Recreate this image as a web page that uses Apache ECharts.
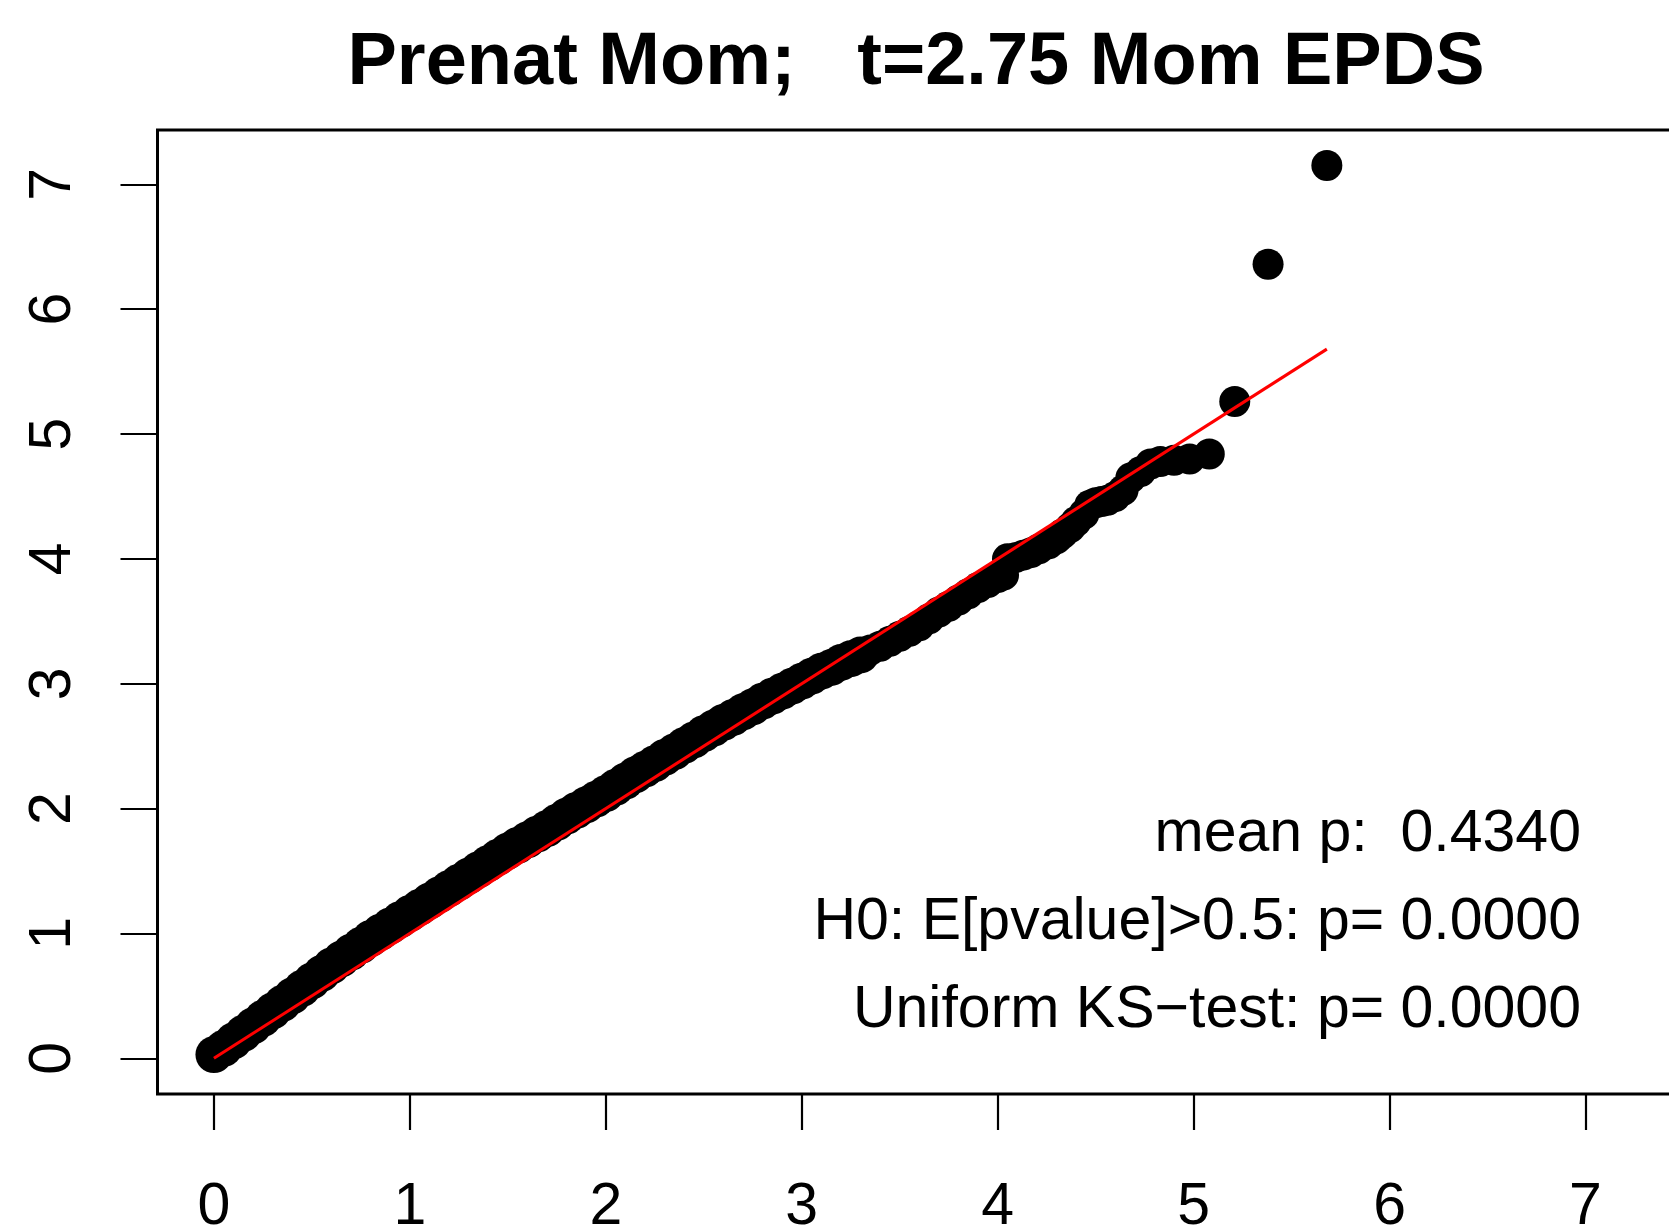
<!DOCTYPE html>
<html>
<head>
<meta charset="utf-8">
<script src="https://cdn.jsdelivr.net/npm/echarts@6/dist/echarts.min.js"></script>
<style>
  html, body { margin: 0; padding: 0; background: #ffffff; }
  #chart { width: 1669px; height: 1227px; }
</style>
</head>
<body>
<div id="chart"></div>
<script>
// ---- chart text ----
const titleText = "Prenat Mom;   t=2.75 Mom EPDS";
const statLines = ["mean p:  0.4340", "H0: E[pvalue]>0.5: p= 0.0000", "Uniform KS\u2212test: p= 0.0000"];

// ---- tick labels ----
const xTicks = [0, 1, 2, 3, 4, 5, 6, 7];
const yTicks = [0, 1, 2, 3, 4, 5, 6, 7];

// ---- dense body of the QQ points (expected -log10 p, observed -log10 p) ----
const bodyX = [0.00,0.05,0.10,0.15,0.20,0.25,0.30,0.35,0.40,0.45,0.50,0.55,0.60,0.65,0.70,0.75,0.80,0.85,0.90,0.95,
  1.00,1.05,1.10,1.15,1.20,1.25,1.30,1.35,1.40,1.45,1.50,1.55,1.60,1.65,1.70,1.75,1.80,1.85,1.90,1.95,
  2.00,2.05,2.10,2.15,2.20,2.25,2.30,2.35,2.40,2.45,2.50,2.55,2.60,2.65,2.70,2.75,2.80,2.85,2.90,2.95,
  3.00,3.05,3.10,3.15,3.20,3.25,3.30];
const bodyY = [0.03,0.08,0.14,0.20,0.26,0.32,0.38,0.44,0.50,0.56,0.62,0.68,0.74,0.795,0.85,0.905,0.96,1.01,1.06,1.11,
  1.16,1.21,1.26,1.31,1.36,1.41,1.46,1.51,1.56,1.61,1.66,1.705,1.75,1.795,1.84,1.89,1.94,1.985,2.03,2.075,
  2.12,2.17,2.22,2.27,2.315,2.36,2.41,2.455,2.505,2.55,2.60,2.645,2.69,2.73,2.775,2.815,2.86,2.90,2.94,2.98,
  3.02,3.06,3.10,3.13,3.17,3.20,3.23];

// ---- sparser upper part and tail ----
const tailX = [3.35,3.40,3.45,3.50,3.55,3.60,3.65,3.70,3.75,3.80,3.85,3.90,3.95,4.00,4.03,4.05,4.09,4.13,4.17,4.21,
  4.26,4.30,4.33,4.37,4.40,4.44,4.47,4.50,4.53,4.56,4.60,4.64,4.68,4.73,4.78,4.83,4.90,4.98,5.08,5.21,5.38,5.68];
const tailY = [3.27,3.30,3.34,3.38,3.42,3.465,3.52,3.575,3.62,3.67,3.72,3.77,3.81,3.85,3.87,4.00,4.01,4.03,4.05,4.08,
  4.12,4.16,4.20,4.25,4.30,4.36,4.43,4.45,4.46,4.47,4.50,4.55,4.65,4.70,4.76,4.78,4.79,4.80,4.84,5.26,6.36,7.15];

// ---- reference line y = x ----
const refX = [0, 5.68];
const refY = [0, 5.68];

const FONT = '"Liberation Sans", Arial, Helvetica, sans-serif';

const chart = echarts.init(document.getElementById('chart'), null, { renderer: 'canvas' });

const zip = (a, b) => a.map((v, i) => [v, b[i]]);

const option = {
  animation: false,
  backgroundColor: '#ffffff',
  title: {
    text: titleText,
    left: 911,
    top: 22,
    textAlign: 'center',
    padding: 5,
    textStyle: { fontFamily: FONT, fontWeight: 'bold', fontSize: 74, color: '#000' }
  },
  grid: {
    show: true,
    left: 157.5,
    top: 130,
    width: 1524,
    height: 964,
    containLabel: false,
    outerBoundsMode: 'none',
    borderColor: '#000',
    borderWidth: 3,
    backgroundColor: 'transparent'
  },
  xAxis: {
    type: 'value',
    min: -0.288,
    max: 7.49,
    axisLine: { show: false, onZero: false },
    splitLine: { show: false },
    axisTick: { show: true, length: 36, lineStyle: { color: '#000', width: 2.2 }, customValues: xTicks },
    axisLabel: { customValues: xTicks, fontSize: 59, fontFamily: FONT, color: '#000', margin: 84 }
  },
  yAxis: {
    type: 'value',
    min: -0.286,
    max: 7.435,
    axisLine: { show: false, onZero: false },
    splitLine: { show: false },
    axisTick: { show: true, length: 37, lineStyle: { color: '#000', width: 2.2 }, customValues: yTicks },
    axisLabel: { customValues: yTicks, rotate: 90, fontSize: 59, fontFamily: FONT, color: '#000', margin: 74 }
  },
  series: [
    {
      type: 'scatter',
      data: zip(bodyX, bodyY),
      symbol: 'circle',
      symbolSize: 37,
      itemStyle: { color: '#000', opacity: 1 },
      z: 2,
      silent: true
    },
    {
      type: 'scatter',
      data: zip(tailX, tailY),
      symbol: 'circle',
      symbolSize: 31,
      itemStyle: { color: '#000', opacity: 1 },
      z: 2,
      silent: true
    },
    {
      type: 'line',
      data: zip(refX, refY),
      symbol: 'none',
      lineStyle: { color: '#ff0000', width: 3 },
      z: 5,
      silent: true
    }
  ],
  graphic: statLines.map((t, i) => ({
    type: 'text',
    x: 1581,
    y: 835 + i * 88,
    style: {
      text: t,
      align: 'right',
      verticalAlign: 'middle',
      font: '59px ' + FONT,
      fill: '#000'
    },
    z: 10
  }))
};

chart.setOption(option);
</script>
</body>
</html>
